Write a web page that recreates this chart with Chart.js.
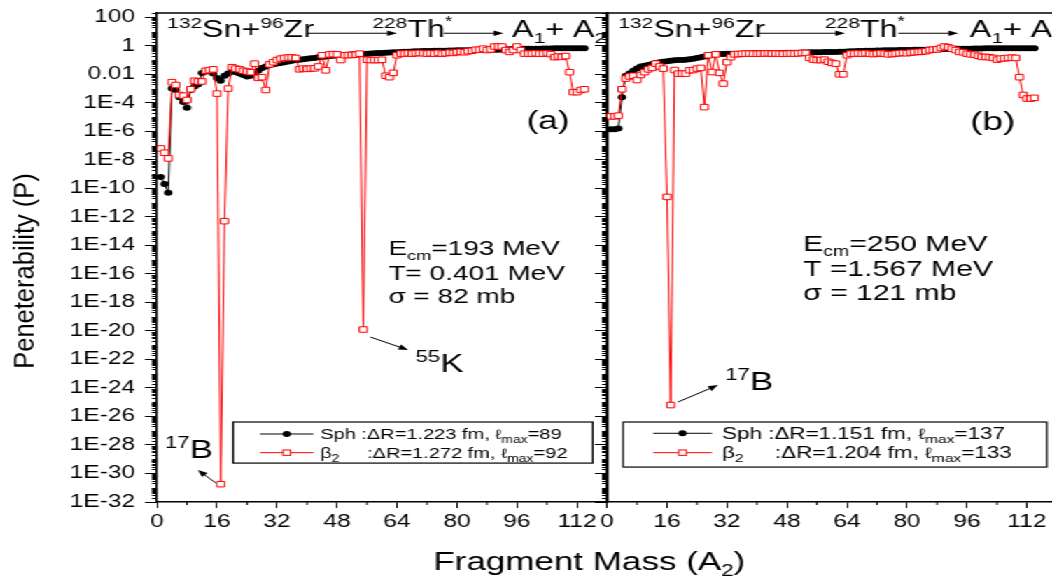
<!DOCTYPE html>
<html>
<head>
<meta charset="utf-8">
<script src="https://cdn.jsdelivr.net/npm/chart.js@4.4.1/dist/chart.umd.min.js"></script>
<style>
  html, body { margin: 0; padding: 0; background: #fff; overflow: hidden; width: 1052px; height: 580px; }
  /* the whole figure is drawn narrow and stretched sideways */
  #stage { position: absolute; left: 0; top: 0; width: 760px; height: 580px; transform: scaleX(1.4); transform-origin: 0 0; }
  #stage canvas { position: absolute; top: 0; }
  #panelA { left: 0; }
  #panelB { left: 420px; }
</style>
</head>
<body>
<div id="stage">
  <canvas id="panelA" width="760" height="580"></canvas>
  <canvas id="panelB" width="340" height="580"></canvas>
</div>
<script>
// fragment mass A2
const masses = Array.from({ length: 114 }, (_, i) => i + 1);

// log10 of penetrability, (a) Ecm = 193 MeV
const logSphA = [
  -9.2, -9.7, -10.3, -3.0, -3.1, -3.6, -3.95, -4.35, -3.1, -2.85,
  -2.7, -1.9, -1.8, -1.8, -1.95, -2.25, -2.45, -2.1, -1.95, -1.75,
  -1.85, -1.95, -2.05, -2.15, -2.1, -1.9, -1.75, -1.55, -1.45, -1.35,
  -1.3, -1.25, -1.2, -1.15, -1.1, -1.05, -1.0, -0.98, -0.95, -0.9,
  -0.88, -0.85, -0.8, -0.78, -0.75, -0.72, -0.7, -0.68, -0.66, -0.64,
  -0.62, -0.6, -0.6, -0.58, -0.57, -0.55, -0.54, -0.52, -0.5, -0.5,
  -0.48, -0.47, -0.46, -0.45, -0.44, -0.42, -0.41, -0.4, -0.39, -0.38,
  -0.37, -0.36, -0.36, -0.35, -0.35, -0.34, -0.34, -0.33, -0.33, -0.32,
  -0.32, -0.31, -0.31, -0.3, -0.3, -0.29, -0.29, -0.28, -0.28, -0.27,
  -0.27, -0.26, -0.25, -0.24, -0.23, -0.22, -0.22, -0.21, -0.21, -0.2,
  -0.2, -0.2, -0.19, -0.19, -0.19, -0.18, -0.18, -0.18, -0.18, -0.17,
  -0.17, -0.17, -0.17, -0.17
];
const logDefA = [
  -7.2, -7.5, -7.9, -2.55, -2.75, -3.45, -3.5, -3.8, -3.05, -2.45,
  -2.5, -2.5, -1.75, -1.7, -1.65, -3.35, -30.75, -12.3, -3.0, -1.5,
  -1.6, -1.65, -1.75, -1.8, -1.85, -1.25, -2.25, -2.2, -3.1, -1.3,
  -1.15, -1.0, -0.9, -0.85, -0.82, -0.82, -0.85, -1.65, -1.6, -1.62,
  -1.6, -1.58, -1.45, -0.66, -1.72, -0.6, -0.58, -0.6, -1.0, -0.66,
  -0.65, -0.64, -0.62, -0.55, -19.9, -0.98, -1.0, -1.0, -1.0, -0.98,
  -2.1, -2.2, -1.9, -0.66, -0.55, -0.55, -0.52, -0.55, -0.52, -0.5,
  -0.52, -0.55, -0.52, -0.55, -0.5, -0.55, -0.52, -0.48, -0.5, -0.45,
  -0.42, -0.45, -0.38, -0.35, -0.28, -0.27, -0.2, -0.3, -0.25, -0.05,
  -0.05, -0.05, -0.3, -0.43, -0.3, -0.05, -0.3, -0.55, -0.55, -0.55,
  -0.52, -0.55, -0.55, -0.52, -0.58, -0.8, -0.75, -0.78, -0.72, -1.85,
  -3.25, -3.25, -3.1, -3.05
];

// log10 of penetrability, (b) Ecm = 250 MeV
const logSphB = [
  -5.85, -5.85, -5.8, -3.6, -2.1, -1.95, -1.75, -1.6, -1.45, -1.4,
  -1.35, -1.28, -1.2, -1.15, -1.12, -1.08, -1.05, -1.02, -1.0, -1.0,
  -0.98, -0.95, -0.9, -0.85, -0.8, -0.75, -0.7, -0.65, -0.6, -0.58,
  -0.57, -0.56, -0.56, -0.55, -0.55, -0.55, -0.54, -0.54, -0.53, -0.53,
  -0.52, -0.52, -0.51, -0.51, -0.5, -0.5, -0.5, -0.49, -0.49, -0.48,
  -0.48, -0.47, -0.47, -0.46, -0.46, -0.45, -0.45, -0.44, -0.44, -0.43,
  -0.43, -0.42, -0.41, -0.4, -0.39, -0.38, -0.37, -0.36, -0.35, -0.34,
  -0.34, -0.33, -0.33, -0.32, -0.32, -0.31, -0.31, -0.3, -0.3, -0.29,
  -0.29, -0.28, -0.28, -0.27, -0.27, -0.26, -0.26, -0.25, -0.24, -0.23,
  -0.22, -0.22, -0.21, -0.21, -0.2, -0.2, -0.2, -0.19, -0.19, -0.19,
  -0.18, -0.18, -0.18, -0.18, -0.18, -0.18, -0.18, -0.18, -0.18, -0.18,
  -0.18, -0.18, -0.18, -0.18
];
const logDefB = [
  -4.95, -4.95, -4.9, -3.05, -2.3, -2.15, -2.1, -2.4, -2.05, -1.85,
  -1.65, -1.55, -1.25, -1.45, -1.6, -10.6, -25.2, -1.7, -1.95, -1.95,
  -1.95, -1.72, -1.7, -1.6, -1.55, -4.3, -0.66, -1.84, -0.6, -1.9,
  -2.65, -1.15, -0.8, -0.6, -0.58, -0.56, -0.55, -0.54, -0.55, -0.56,
  -0.55, -0.54, -0.53, -0.55, -0.54, -0.55, -0.56, -0.55, -0.54, -0.55,
  -0.53, -0.5, -0.5, -0.85, -0.97, -1.0, -1.0, -0.97, -1.12, -1.2,
  -1.25, -2.0, -2.0, -0.66, -0.55, -0.55, -0.53, -0.55, -0.52, -0.55,
  -0.58, -0.55, -0.52, -0.55, -0.6, -0.58, -0.55, -0.52, -0.5, -0.52,
  -0.48, -0.45, -0.43, -0.42, -0.38, -0.3, -0.27, -0.25, -0.15, -0.05,
  -0.1, -0.2, -0.3, -0.43, -0.45, -0.55, -0.6, -0.62, -0.7, -0.78,
  -0.78, -0.8, -0.85, -0.97, -0.9, -0.88, -0.85, -0.83, -0.85, -2.2,
  -3.45, -3.7, -3.7, -3.65
];

const yTickValues = [1e-32, 1e-30, 1e-28, 1e-26, 1e-24, 1e-22, 1e-20, 1e-18, 1e-16,
  1e-14, 1e-12, 1e-10, 1e-8, 1e-6, 1e-4, 0.01, 1, 100];
const yTickLabels = ['1E-32', '1E-30', '1E-28', '1E-26', '1E-24', '1E-22', '1E-20', '1E-18', '1E-16',
  '1E-14', '1E-12', '1E-10', '1E-8', '1E-6', '1E-4', '0.01', '1', '100'];

const S = 1.4;            // sideways stretch of #stage
const FONT = '"Liberation Sans", Arial, sans-serif';
const RED = '#ff0000';
const X_MAX = 120, Y_MIN = 1e-32, Y_MAX = 200;

Chart.defaults.font.family = FONT;
Chart.defaults.color = '#000';

const points = logs => masses.map((m, i) => ({ x: m, y: 10 ** logs[i] }));

// text, arrows and legend for each panel (mass, log10 P)
const notesA = {
  header: { sn: 2.7, arrow1: [40, 64], th: 57.4, arrow2: [76.4, 92.4], prod: 94.7 },
  tag: ['(a)', 104.3, -5.36, 25],
  energy: { at: 61.7, size: 20, rows: [-14.69, -16.44, -18.05], e: '=193 MeV', t: 'T= 0.401 MeV', s: '\u03C3 = 82 mb' },
  nuclei: [
    { mass: '55', sym: 'K', at: [68.9, -22.89], from: [56.9, -20.43], to: [67, -21.34] },
    { mass: '17', sym: 'B', at: [2.1, -28.92], from: [15.75, -30.67], to: [10.9, -29.76] }
  ],
  legend: { size: 14.3, box: [20.3, -26.39, 116.2, -29.27], rows: [-27.23, -28.54], line: [27.5, 41.7], text: 43.5, colon: 56,
    sph: ':\u0394R=1.223 fm, ', sphL: '=89', def: ':\u0394R=1.272 fm, ', defL: '=92' }
};
const notesB = {
  header: { sn: 3.0, arrow1: [40.4, 63.5], th: 58.1, arrow2: [77.7, 93.7], prod: 96.8 },
  tag: ['(b)', 102.9, -5.36, 26.5],
  energy: { at: 52.3, size: 21.5, rows: [-14.4, -16.16, -17.84], e: '=250 MeV', t: 'T =1.567 MeV', s: '\u03C3 = 121 mb' },
  nuclei: [
    { mass: '17', sym: 'B', at: [31.5, -24.15], from: [18.9, -24.99], to: [29.6, -23.8] }
  ],
  legend: { size: 16, box: [4.3, -26.39, 117.3, -29.55], rows: [-27.18, -28.54], line: [12.3, 28], text: 30.7, colon: 44.8,
    sph: ':\u0394R=1.151 fm, ', sphL: '=137', def: ':\u0394R=1.204 fm, ', defL: '=133' }
};

function at(chart, a, lg) {
  return [chart.scales.x.getPixelForValue(a), chart.scales.y.getPixelForValue(10 ** lg)];
}

function runs(ctx, x, y, parts) {
  for (const [txt, size, dy] of parts) {
    ctx.font = `${size}px ${FONT}`;
    ctx.fillText(txt, x, y + (dy || 0));
    x += ctx.measureText(txt).width;
  }
  return x;
}

function arrow(ctx, x1, y1, x2, y2, head) {
  const ang = Math.atan2(y2 - y1, x2 - x1);
  const c = Math.cos(ang), s = Math.sin(ang);
  ctx.beginPath();
  ctx.moveTo(x1, y1);
  ctx.lineTo(x2 - c * head * 0.7, y2 - s * head * 0.7);
  ctx.stroke();
  ctx.beginPath();
  ctx.moveTo(x2, y2);
  ctx.lineTo(x2 - head * c + head * 0.4 * s, y2 - head * s - head * 0.4 * c);
  ctx.lineTo(x2 - head * c - head * 0.4 * s, y2 - head * s + head * 0.4 * c);
  ctx.closePath();
  ctx.fill();
}

function drawNotes(chart, n) {
  const ctx = chart.ctx;
  ctx.save();
  ctx.fillStyle = '#000';
  ctx.strokeStyle = '#000';
  ctx.lineWidth = 1;
  ctx.textAlign = 'left';
  ctx.textBaseline = 'alphabetic';

  // reaction header
  const h = n.header;
  const base = at(chart, 0, 0.6)[1];
  const ay = at(chart, 0, 0.88)[1];
  runs(ctx, at(chart, h.sn, 0)[0], base, [['132', 15, -9], ['Sn+', 23], ['96', 15, -9], ['Zr', 23]]);
  arrow(ctx, at(chart, h.arrow1[0], 0)[0], ay, at(chart, h.arrow1[1], 0)[0], ay, 7);
  runs(ctx, at(chart, h.th, 0)[0], base, [['228', 15, -9], ['Th', 23], ['*', 14, -11]]);
  arrow(ctx, at(chart, h.arrow2[0], 0)[0], ay, at(chart, h.arrow2[1], 0)[0], ay, 7);
  runs(ctx, at(chart, h.prod, 0)[0], base, [['A', 23], ['1', 15, 6], ['+ A', 23], ['2', 15, 6]]);

  // panel tag
  const [tx, ty] = at(chart, n.tag[1], n.tag[2]);
  ctx.font = `${n.tag[3]}px ${FONT}`;
  ctx.textAlign = 'center';
  ctx.textBaseline = 'middle';
  ctx.fillText(n.tag[0], tx, ty);
  ctx.textAlign = 'left';
  ctx.textBaseline = 'alphabetic';

  // energy, temperature, cross section
  const e = n.energy;
  const ex = at(chart, e.at, 0)[0];
  runs(ctx, ex, at(chart, 0, e.rows[0])[1], [['E', e.size], ['cm', e.size * 0.65, 5], [e.e, e.size]]);
  runs(ctx, ex, at(chart, 0, e.rows[1])[1], [[e.t, e.size]]);
  runs(ctx, ex, at(chart, 0, e.rows[2])[1], [[e.s, e.size]]);

  // marked fragments
  for (const f of n.nuclei) {
    const [fx, fy] = at(chart, f.at[0], f.at[1]);
    runs(ctx, fx, fy, [[f.mass, 16, -10], [f.sym, 25]]);
    const p1 = at(chart, f.from[0], f.from[1]);
    const p2 = at(chart, f.to[0], f.to[1]);
    arrow(ctx, p1[0], p1[1], p2[0], p2[1], 7);
  }

  // legend box
  const L = n.legend;
  const fs = L.size, sub = fs * 0.7;
  const b1 = at(chart, L.box[0], L.box[1]);
  const b2 = at(chart, L.box[2], L.box[3]);
  ctx.lineWidth = 1.2;
  ctx.strokeRect(b1[0], b1[1], b2[0] - b1[0], b2[1] - b1[1]);
  const lx1 = at(chart, L.line[0], 0)[0];
  const lx2 = at(chart, L.line[1], 0)[0];
  const mx = (lx1 + lx2) / 2;
  const r1 = at(chart, 0, L.rows[0])[1];
  const r2 = at(chart, 0, L.rows[1])[1];
  ctx.lineWidth = 1;
  ctx.strokeStyle = '#000';
  ctx.beginPath(); ctx.moveTo(lx1, r1); ctx.lineTo(lx2, r1); ctx.stroke();
  ctx.beginPath(); ctx.arc(mx, r1, 3.0, 0, Math.PI * 2); ctx.fill();
  ctx.strokeStyle = RED;
  ctx.beginPath(); ctx.moveTo(lx1, r2); ctx.lineTo(lx2, r2); ctx.stroke();
  ctx.fillStyle = '#fff';
  ctx.fillRect(mx - 2.7, r2 - 2.7, 5.4, 5.4);
  ctx.strokeRect(mx - 2.7, r2 - 2.7, 5.4, 5.4);
  ctx.fillStyle = '#000';
  const txx = at(chart, L.text, 0)[0];
  const cx = at(chart, L.colon, 0)[0];
  runs(ctx, txx, r1 + 5.5, [['Sph ', fs], [L.sph, fs], ['\u2113', fs * 0.93], ['max', sub, 4], [L.sphL, fs]]);
  runs(ctx, txx, r2 + 5.5, [['\u03B2', fs], ['2', sub, 4]]);
  runs(ctx, cx, r2 + 5.5, [[L.def, fs], ['\u2113', fs * 0.93], ['max', sub, 4], [L.defL, fs]]);
  ctx.restore();
}

// frame, minor ticks and the notes
function decor(notes, withTitles) {
  return {
    id: 'decor',
    afterDraw(chart) {
      const { ctx, chartArea: ca, scales: { x, y } } = chart;
      ctx.save();
      ctx.strokeStyle = '#000';
      ctx.lineWidth = 1;
      ctx.beginPath();
      for (let ex = -32; ex <= 2; ex++) {
        for (let k = 1; k <= 9; k++) {
          const v = k * 10 ** ex;
          if (v > Y_MAX || (k === 1 && ex % 2 === 0)) continue;
          const py = Math.round(y.getPixelForValue(v)) + 0.5;
          ctx.moveTo(ca.left, py);
          ctx.lineTo(ca.left - 3.6, py);
        }
      }
      for (let m = 8; m < X_MAX; m += 16) {
        const px = x.getPixelForValue(m);
        ctx.moveTo(px, ca.bottom);
        ctx.lineTo(px, ca.bottom + 3);
      }
      ctx.stroke();
      ctx.lineWidth = 1.5;
      ctx.beginPath();
      ctx.moveTo(ca.left, ca.top);
      ctx.lineTo(ca.right, ca.top);
      ctx.lineTo(ca.right, ca.bottom);
      ctx.stroke();
      ctx.restore();

      drawNotes(chart, notes);

      if (withTitles) {
        ctx.save();
        ctx.fillStyle = '#000';
        // x title
        ctx.font = `25px ${FONT}`;
        const w = ctx.measureText('Fragment Mass (A').width + ctx.measureText(')').width
          + (ctx.font = `16px ${FONT}`, ctx.measureText('2').width);
        runs(ctx, 421 - w / 2, 570, [['Fragment Mass (A', 25], ['2', 16, 6], [')', 25]]);
        // y title, only lightly stretched
        ctx.translate(25 / S, 271);
        ctx.scale(1.15 / S, 1);
        ctx.rotate(-Math.PI / 2);
        ctx.font = `25.5px ${FONT}`;
        ctx.textAlign = 'center';
        ctx.textBaseline = 'middle';
        ctx.fillText('Peneterability (P)', 0, 0);
        ctx.restore();
      }
    }
  };
}

function buildPanel(id, sph, def, opt) {
  return new Chart(document.getElementById(id), {
    type: 'line',
    data: {
      datasets: [
        { label: '\u03B22', data: points(def), borderColor: RED, borderWidth: 1,
          pointStyle: 'rect', pointRadius: 3.9, pointBackgroundColor: '#fff',
          pointBorderColor: RED, pointBorderWidth: 1, clip: false },
        { label: 'Sph', data: points(sph), borderColor: '#000', borderWidth: 1,
          pointStyle: 'circle', pointRadius: 3.0, pointBackgroundColor: '#000',
          pointBorderColor: '#000', pointBorderWidth: 0, clip: false }
      ]
    },
    options: {
      responsive: false,
      animation: false,
      events: [],
      layout: { padding: { top: 13, right: opt.padRight, left: 0, bottom: 0 } },
      plugins: { legend: { display: false }, tooltip: { enabled: false } },
      scales: {
        x: {
          type: 'linear', min: 0, max: X_MAX,
          afterFit: s => { s.height = 78; s.paddingLeft = 0; s.paddingRight = 0; },
          ticks: { stepSize: 16, includeBounds: false, autoSkip: false, maxRotation: 0,
            padding: 4, font: { size: 17.5 } },
          grid: { drawOnChartArea: false, drawTicks: true, tickLength: 6, color: '#000', lineWidth: 1 },
          border: { display: true, color: '#000', width: 1.5 }
        },
        y: {
          type: 'logarithmic', min: Y_MIN, max: Y_MAX,
          afterBuildTicks: s => { s.ticks = yTickValues.map(v => ({ value: v })); },
          afterFit: s => { s.width = opt.yWidth; s.paddingTop = 0; s.paddingBottom = 0; },
          ticks: { display: opt.labels, padding: 7, font: { size: 17.5 },
            callback: (v, i) => yTickLabels[i] },
          grid: { drawOnChartArea: false, drawTicks: true, tickLength: 8.6, color: '#000', lineWidth: 1 },
          border: { display: true, color: '#000', width: 1.5 }
        }
      }
    },
    plugins: [decor(opt.notes, opt.titles)]
  });
}

buildPanel('panelA', logSphA, logDefA, { yWidth: 112.1, padRight: 760 - 433.6, labels: true, notes: notesA, titles: true });
buildPanel('panelB', logSphB, logDefB, { yWidth: 13.6, padRight: 5, labels: false, notes: notesB, titles: false });
</script>
</body>
</html>
